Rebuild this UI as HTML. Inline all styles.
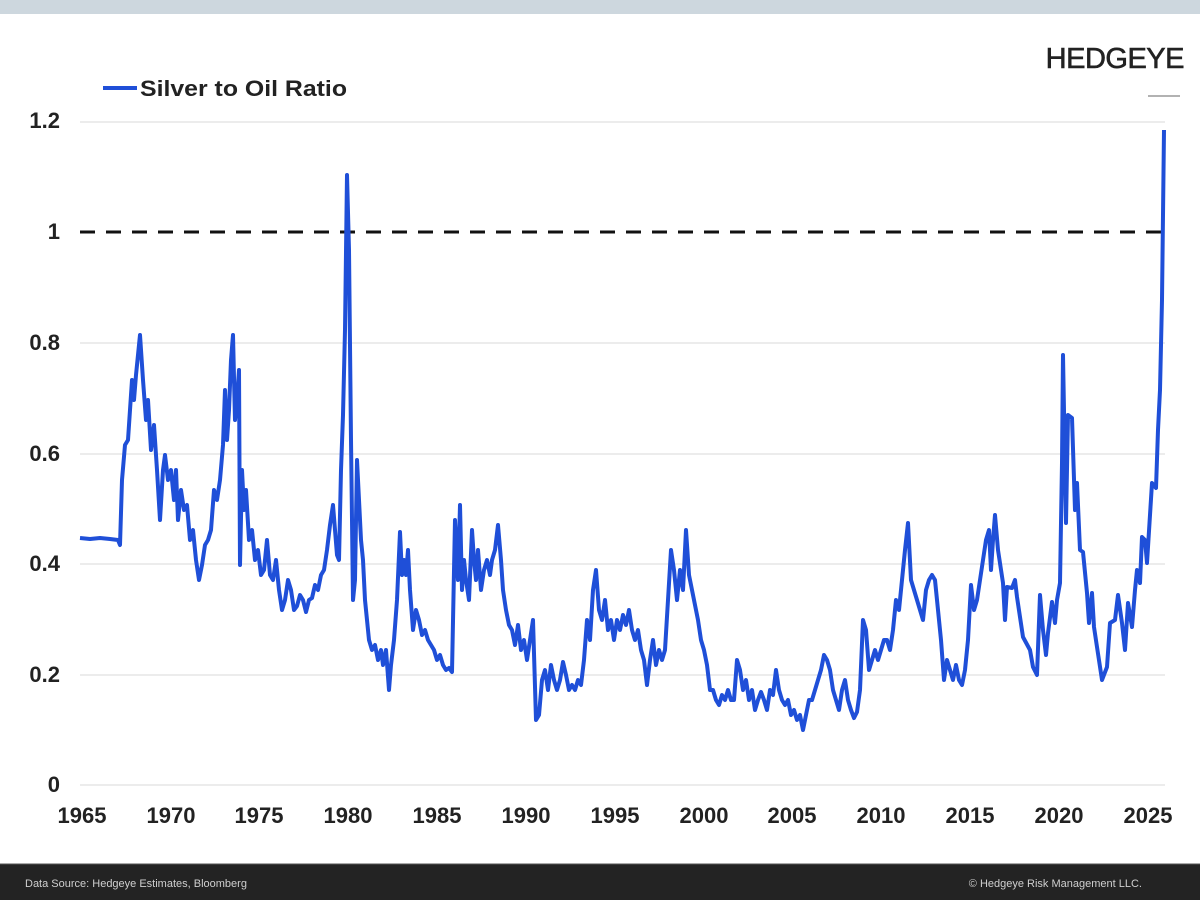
<!DOCTYPE html>
<html><head><meta charset="utf-8"><style>
html,body{margin:0;padding:0;background:#fff;}
body{width:1200px;height:900px;overflow:hidden;position:relative;font-family:"Liberation Sans",sans-serif;}
</style></head><body>
<svg width="1200" height="900" viewBox="0 0 1200 900" xmlns="http://www.w3.org/2000/svg" style="position:absolute;left:0;top:0">
<rect x="0" y="0" width="1200" height="14" fill="#cdd7de"/>
<rect x="0" y="864" width="1200" height="36" fill="#232323"/>
<line x1="0" y1="864" x2="1200" y2="864" stroke="#555" stroke-width="1"/>
<text x="25" y="887" font-size="11" fill="#cfcfcf" font-family="Liberation Sans, sans-serif">Data Source: Hedgeye Estimates, Bloomberg</text>
<text x="1142" y="887" font-size="11" fill="#cfcfcf" text-anchor="end" font-family="Liberation Sans, sans-serif">© Hedgeye Risk Management LLC.</text>
<text x="1184" y="68" font-size="29" fill="#222" text-anchor="end" font-family="Liberation Sans, sans-serif" stroke="#222" stroke-width="0.6" letter-spacing="-0.5">HEDGEYE</text>
<line x1="1148" y1="96" x2="1180" y2="96" stroke="#999" stroke-width="1.5"/>
<g stroke="#e6e6e6" stroke-width="1.5">
<line x1="80" y1="122" x2="1165" y2="122"/>
<line x1="80" y1="343" x2="1165" y2="343"/>
<line x1="80" y1="454" x2="1165" y2="454"/>
<line x1="80" y1="564" x2="1165" y2="564"/>
<line x1="80" y1="675" x2="1165" y2="675"/>
<line x1="80" y1="785" x2="1165" y2="785"/>
</g>
<line x1="80" y1="232" x2="1163" y2="232" stroke="#111" stroke-width="3" stroke-dasharray="15,11"/>
<g font-size="22" font-weight="bold" fill="#222" text-anchor="end" font-family="Liberation Sans, sans-serif">
<text x="60" y="128">1.2</text>
<text x="60" y="239">1</text>
<text x="60" y="350">0.8</text>
<text x="60" y="461">0.6</text>
<text x="60" y="571">0.4</text>
<text x="60" y="682">0.2</text>
<text x="60" y="792">0</text>
</g>
<g font-size="22" font-weight="bold" fill="#222" text-anchor="middle" font-family="Liberation Sans, sans-serif">
<text x="82" y="823">1965</text><text x="171" y="823">1970</text><text x="259" y="823">1975</text><text x="348" y="823">1980</text>
<text x="437" y="823">1985</text><text x="526" y="823">1990</text><text x="615" y="823">1995</text><text x="704" y="823">2000</text>
<text x="792" y="823">2005</text><text x="881" y="823">2010</text><text x="970" y="823">2015</text><text x="1059" y="823">2020</text>
<text x="1148" y="823">2025</text>
</g>
<line x1="103" y1="88" x2="137" y2="88" stroke="#1f4fd8" stroke-width="4"/>
<text x="140" y="96" font-size="22" font-weight="bold" fill="#222" font-family="Liberation Sans, sans-serif" textLength="207" lengthAdjust="spacingAndGlyphs">Silver to Oil Ratio</text>
<polyline fill="none" stroke="#1f4fd8" stroke-width="4" stroke-linejoin="round" points="
80,538 90,539 100,538 110,539 118,540 120,545 122,480 125,445 128,440 130,410 132,380 134,400 136,375 140,335 143,380 146,420 148,400 151,450 154,425 157,470 160,520 163,470 165,455 168,480 171,470 174,500 176,470 178,520 181,490 184,510 187,505 190,540 193,530 196,560 199,580 202,565 205,545 208,540 211,530 214,490 217,500 220,480 223,445 225,390 227,440 229,410 231,360 233,335 235,420 237,400 239,370 240,565 242,470 244,510 246,490 249,540 252,530 255,560 258,550 261,575 264,570 267,540 270,575 273,580 276,560 279,590 282,610 285,600 288,580 291,590 294,610 297,606 300,595 303,600 306,612 309,600 312,598 315,585 318,590 321,575 324,570 327,550 330,525 333,505 335,530 337,555 339,560 341,470 343,415 345,330 347,175 349,250 351,440 353,600 355,580 357,460 359,500 361,540 363,560 365,600 367,620 369,640 372,650 375,645 378,660 381,650 383,665 386,650 389,690 391,665 394,640 397,600 400,532 402,575 404,560 406,575 408,550 410,590 413,630 416,610 419,620 422,635 425,630 428,640 431,645 434,650 437,660 440,655 443,665 446,670 449,668 452,672 455,520 458,580 460,505 462,590 464,560 466,580 469,600 472,530 474,560 476,580 478,550 481,590 484,570 487,560 490,575 492,560 495,550 498,525 501,560 503,590 506,610 509,625 512,630 515,645 518,625 521,650 524,640 527,660 530,640 533,620 536,720 539,715 542,680 545,670 548,690 551,665 554,680 557,690 560,680 563,662 566,675 569,690 572,685 575,690 578,680 581,685 584,660 587,620 590,640 593,590 596,570 599,610 602,620 605,600 608,630 611,620 614,640 617,620 620,630 623,615 626,625 629,610 632,630 635,640 638,630 641,650 644,660 647,685 650,660 653,640 656,665 659,650 662,660 665,650 668,600 671,550 674,570 677,600 680,570 683,590 686,530 689,575 692,590 695,605 698,620 701,640 704,650 707,665 710,690 713,690 716,700 719,705 722,695 725,700 728,690 731,700 734,700 737,660 740,670 743,690 746,680 749,700 752,690 755,710 758,700 761,692 764,700 767,710 770,690 773,695 776,670 779,690 782,700 785,705 788,700 791,715 794,710 797,720 800,715 803,730 806,715 809,700 812,700 815,690 818,680 821,670 824,655 827,660 830,670 833,690 836,700 839,710 842,690 845,680 848,700 851,710 854,718 857,712 860,690 863,620 866,630 869,670 872,660 875,650 878,660 881,650 884,640 887,640 890,650 893,630 896,600 899,610 902,580 905,550 908,523 911,580 914,590 917,600 920,610 923,620 926,590 929,580 932,575 935,580 938,610 941,640 944,680 947,660 950,670 953,680 956,665 959,680 962,685 965,670 968,640 971,585 974,610 977,600 980,580 983,560 986,540 989,530 991,570 993,540 995,515 998,550 1003,583 1005,620 1007,587 1012,588 1015,580 1017,597 1023,637 1030,650 1033,667 1037,675 1040,595 1043,630 1046,655 1048,633 1052,602 1055,623 1057,600 1060,583 1062,463 1063,355 1066,523 1068,415 1072,418 1075,510 1077,483 1080,550 1083,552 1087,593 1089,623 1092,593 1094,627 1097,647 1102,680 1107,667 1110,623 1115,620 1118,595 1122,623 1125,650 1128,603 1132,627 1135,590 1137,570 1140,583 1142,537 1145,540 1147,563 1152,483 1156,488 1158,430 1160,390 1162,300 1164,130"/>
</svg>
</body></html>
